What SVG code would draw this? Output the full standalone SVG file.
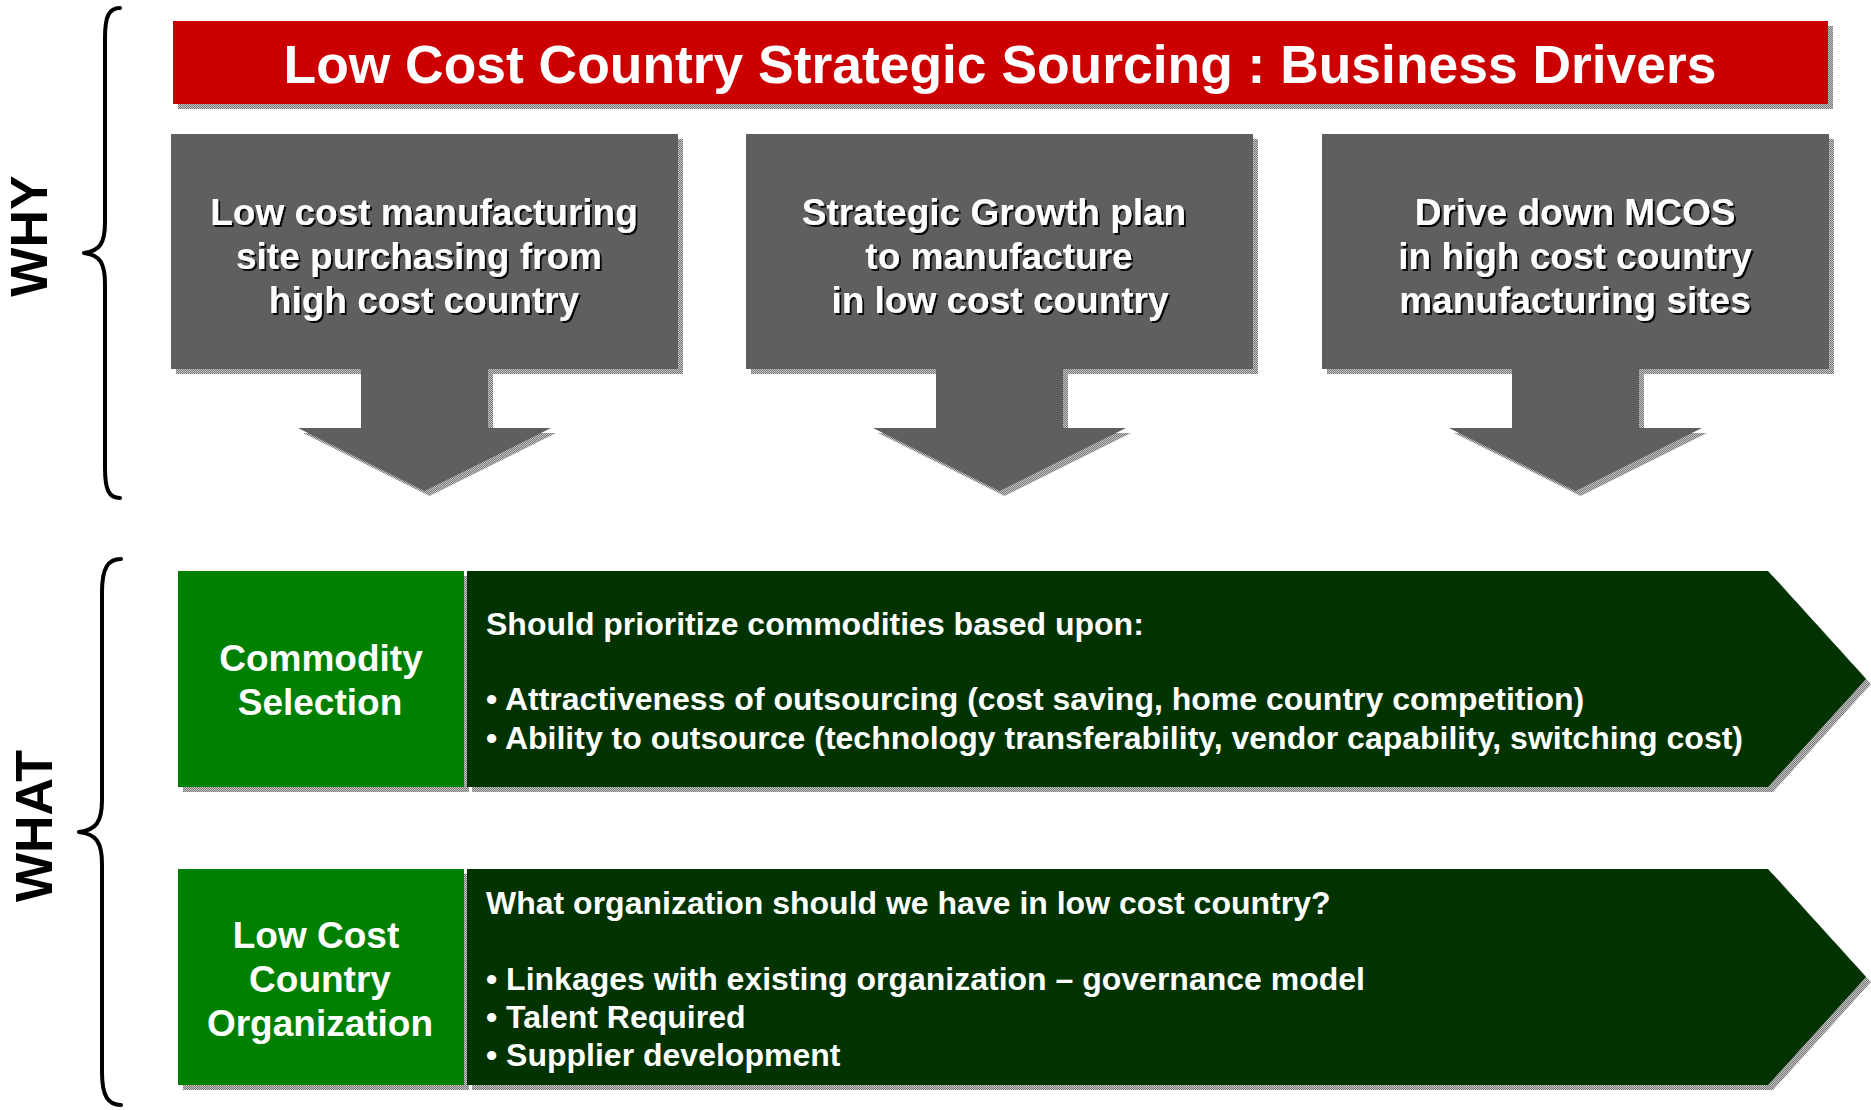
<svg xmlns="http://www.w3.org/2000/svg" xmlns:xlink="http://www.w3.org/1999/xlink" width="1871" height="1110" viewBox="0 0 1871 1110">
<style>
text{font-family:"Liberation Sans",Arial,sans-serif;font-weight:bold;fill:#fff}
.drv{font-size:37px;text-anchor:middle;filter:url(#ts)}
.lbl{font-size:37px;text-anchor:middle}
.body{font-size:32px}
.side{font-size:52px;fill:#000;text-anchor:middle}
.brace{fill:none;stroke:#000;stroke-width:4;stroke-linecap:round;stroke-linejoin:round}
.sh{fill:url(#dither)}
</style>
<defs>
<pattern id="dither" width="2" height="2" patternUnits="userSpaceOnUse">
<rect width="2" height="2" fill="#c6c6c6"/>
<rect width="1" height="1" fill="#777"/>
<rect x="1" y="1" width="1" height="1" fill="#777"/>
</pattern>
<filter id="ts" x="-5%" y="-20%" width="110%" height="140%">
<feDropShadow dx="2" dy="2" stdDeviation="0.4" flood-color="#000" flood-opacity="0.9"/>
</filter>
<path id="drvShape" d="M0,134 H507 V369 H317 V428 H380 L253.5,491 L127,428 H190 V369 H0 Z"/>
<path id="panelShape" d="M0,0 H1301 L1399,108 L1301,216 H0 Z"/>
</defs>
<rect width="1871" height="1110" fill="#fff"/>

<g id="title">
<rect class="sh" x="178" y="26" width="1655" height="83"/>
<rect x="173" y="21" width="1655" height="83" fill="#cc0000"/>
<text x="1000" y="83" font-size="53.4" text-anchor="middle">Low Cost Country Strategic Sourcing : Business Drivers</text>
</g>

<g id="label-why">
<text class="side" transform="translate(47,236) rotate(-90)">WHY</text>
</g>
<g id="label-what">
<text class="side" transform="translate(52,826) rotate(-90)">WHAT</text>
</g>

<g id="connectors">
<path class="brace" d="M120,8 C109,8 105,16 105,38 L105,222 C105,243 100,251 84,253 C100,255 105,263 105,284 L105,468 C105,490 109,498 120,498"/>
<path class="brace" d="M121,559 C108,559 102,568 102,592 L102,800 C102,822 96,830 79,832 C96,834 102,842 102,864 L102,1072 C102,1096 108,1105 121,1105"/>
</g>

<g id="driver-1">
<use xlink:href="#drvShape" class="sh" x="176" y="5"/>
<use xlink:href="#drvShape" x="171" y="0" fill="#5f5f5f"/>
<text class="drv" x="424" y="224.5">Low cost manufacturing</text>
<text class="drv" x="419" y="268.5">site purchasing from</text>
<text class="drv" x="424" y="312.5">high cost country</text>
</g>

<g id="driver-2">
<use xlink:href="#drvShape" class="sh" x="751" y="5"/>
<use xlink:href="#drvShape" x="746" y="0" fill="#5f5f5f"/>
<text class="drv" x="994" y="224.5">Strategic Growth plan</text>
<text class="drv" x="999" y="268.5">to manufacture</text>
<text class="drv" x="1000" y="312.5">in low cost country</text>
</g>

<g id="driver-3">
<use xlink:href="#drvShape" class="sh" x="1327" y="5"/>
<use xlink:href="#drvShape" x="1322" y="0" fill="#5f5f5f"/>
<text class="drv" x="1575" y="224.5">Drive down MCOS</text>
<text class="drv" x="1575" y="268.5">in high cost country</text>
<text class="drv" x="1575" y="312.5">manufacturing sites</text>
</g>

<g id="commodity-selection">
<rect class="sh" x="183" y="576" width="286" height="216"/>
<use xlink:href="#panelShape" class="sh" x="472" y="576"/>
<rect x="178" y="571" width="286" height="216" fill="#008000"/>
<use xlink:href="#panelShape" x="467" y="571" fill="#003300"/>
<text class="lbl" x="321" y="670.5">Commodity</text>
<text class="lbl" x="320" y="715">Selection</text>
<text class="body" x="486" y="634.5">Should prioritize commodities based upon:</text>
<text class="body" x="486" y="710">• Attractiveness of outsourcing (cost saving, home country competition)</text>
<text class="body" x="486" y="749">• Ability to outsource (technology transferability, vendor capability, switching cost)</text>
</g>

<g id="lcc-organization">
<rect class="sh" x="183" y="874" width="286" height="216"/>
<use xlink:href="#panelShape" class="sh" x="472" y="874"/>
<rect x="178" y="869" width="286" height="216" fill="#008000"/>
<use xlink:href="#panelShape" x="467" y="869" fill="#003300"/>
<text class="lbl" x="316" y="948">Low Cost</text>
<text class="lbl" x="320" y="992">Country</text>
<text class="lbl" x="320" y="1036">Organization</text>
<text class="body" x="486" y="914">What organization should we have in low cost country?</text>
<text class="body" x="486" y="990">• Linkages with existing organization – governance model</text>
<text class="body" x="486" y="1028">• Talent Required</text>
<text class="body" x="486" y="1066">• Supplier development</text>
</g>
</svg>
